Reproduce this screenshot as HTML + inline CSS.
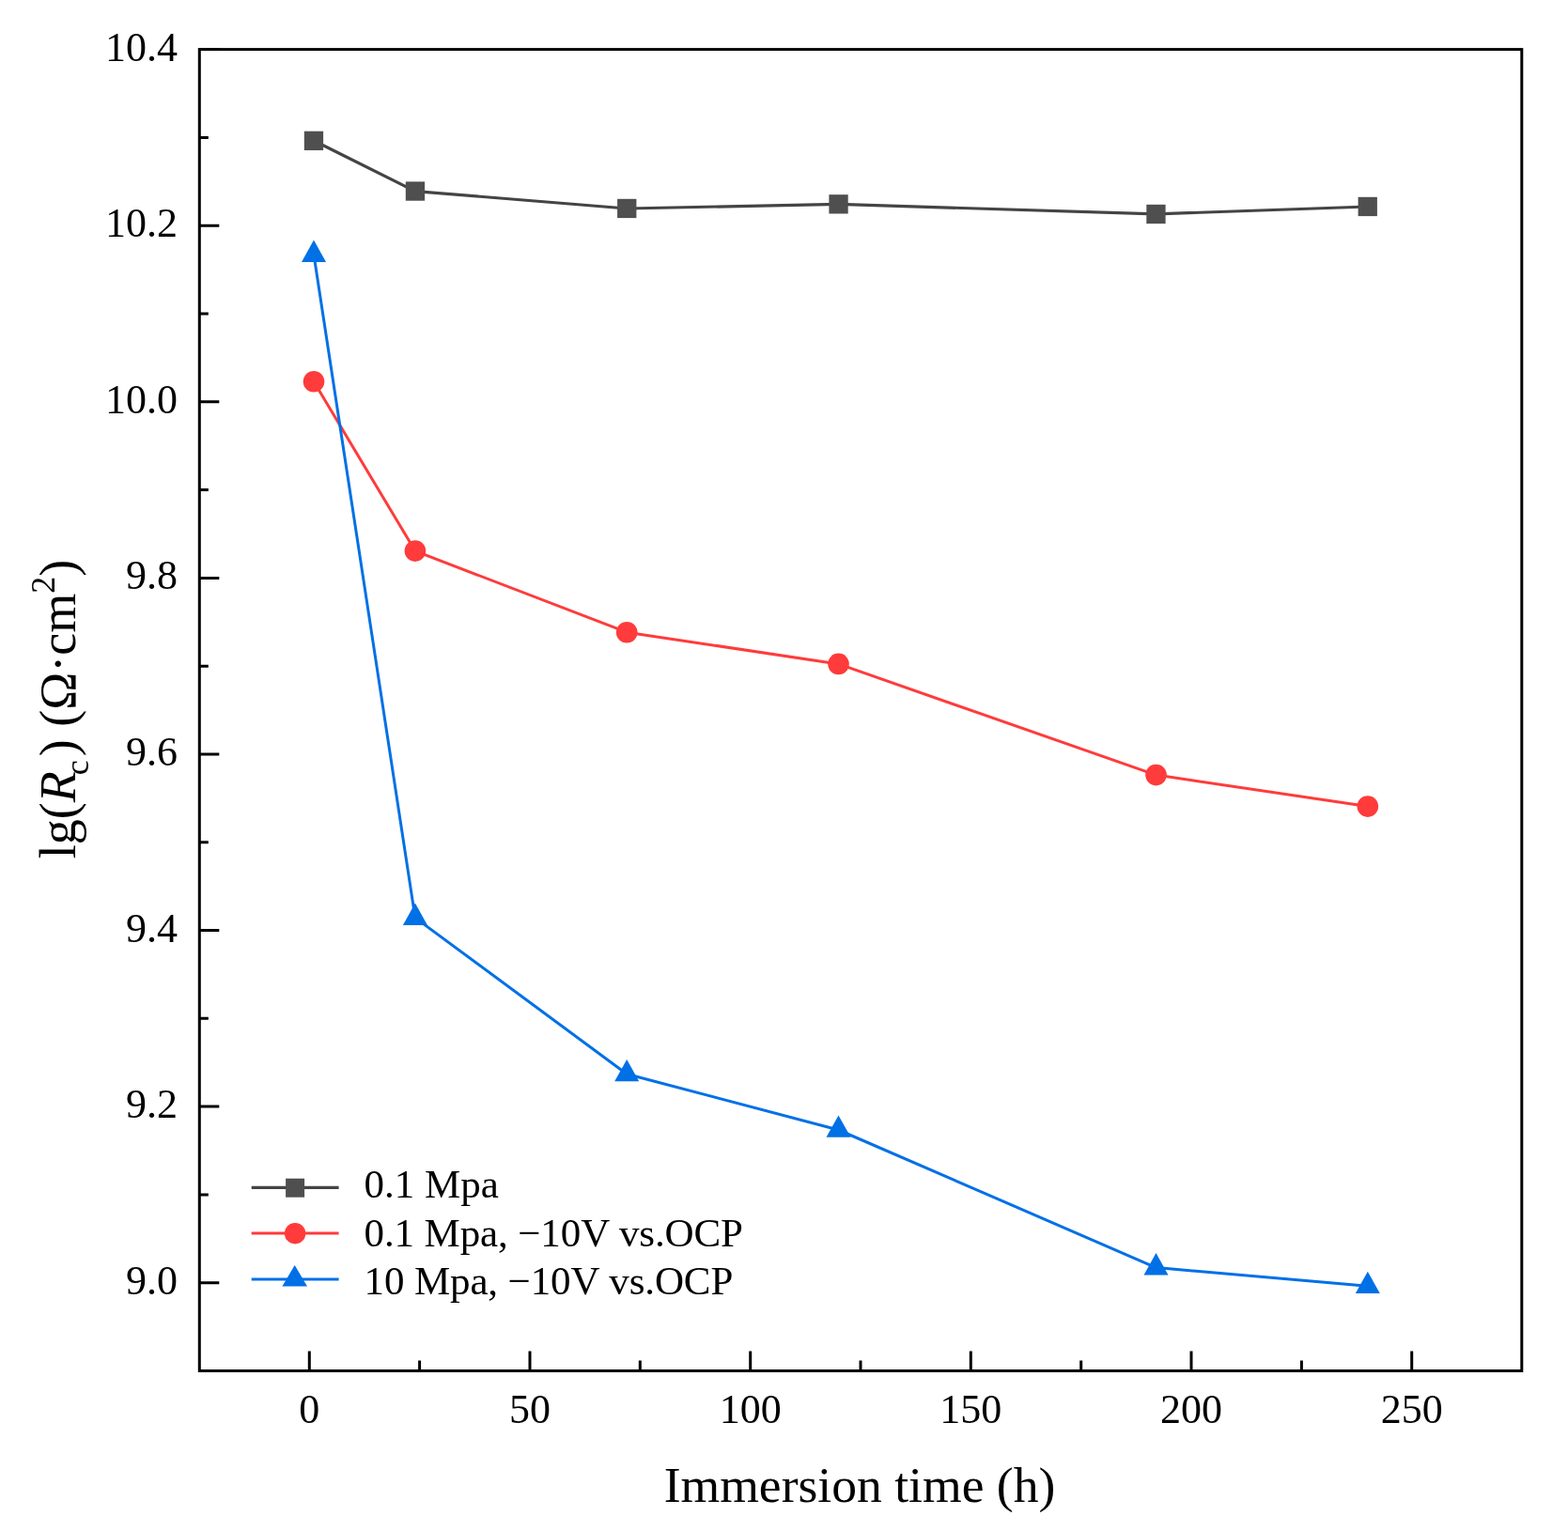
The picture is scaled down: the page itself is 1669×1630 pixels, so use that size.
<!DOCTYPE html>
<html><head><meta charset="utf-8"><title>lg(Rc) vs Immersion time</title>
<style>html,body{margin:0;padding:0;background:#fff;}svg{display:block;}</style></head>
<body>
<svg width="1669" height="1630" viewBox="0 0 1669 1630">
<rect width="1669" height="1630" fill="#fff"/>
<polyline points="334.0,149.8 441.9,203.6 667.2,222.0 892.5,217.4 1230.5,227.9 1455.8,220.0" fill="none" stroke="#444444" stroke-width="3.2" stroke-linejoin="round"/>
<polyline points="334.0,406.3 441.9,586.6 667.2,673.2 892.5,706.9 1230.5,825.1 1455.8,858.6" fill="none" stroke="#ff3b3b" stroke-width="3" stroke-linejoin="round"/>
<polyline points="334.0,271.1 441.9,977.1 667.2,1143.5 892.5,1203.0 1230.5,1349.6 1455.8,1369.3" fill="none" stroke="#0070e6" stroke-width="3" stroke-linejoin="round"/>
<rect x="323.8" y="139.7" width="20.3" height="20.3" fill="#4f4f4f"/>
<rect x="431.8" y="193.4" width="20.3" height="20.3" fill="#4f4f4f"/>
<rect x="657.1" y="211.8" width="20.3" height="20.3" fill="#4f4f4f"/>
<rect x="882.4" y="207.2" width="20.3" height="20.3" fill="#4f4f4f"/>
<rect x="1220.3" y="217.8" width="20.3" height="20.3" fill="#4f4f4f"/>
<rect x="1445.6" y="209.8" width="20.3" height="20.3" fill="#4f4f4f"/>
<circle cx="334.0" cy="406.3" r="11.3" fill="#ff3b3b"/>
<circle cx="441.9" cy="586.6" r="11.3" fill="#ff3b3b"/>
<circle cx="667.2" cy="673.2" r="11.3" fill="#ff3b3b"/>
<circle cx="892.5" cy="706.9" r="11.3" fill="#ff3b3b"/>
<circle cx="1230.5" cy="825.1" r="11.3" fill="#ff3b3b"/>
<circle cx="1455.8" cy="858.6" r="11.3" fill="#ff3b3b"/>
<polygon points="334.0,255.6 347.0,278.9 321.0,278.9" fill="#0070e6"/>
<polygon points="441.9,961.6 454.9,984.9 428.9,984.9" fill="#0070e6"/>
<polygon points="667.2,1128.0 680.2,1151.3 654.2,1151.3" fill="#0070e6"/>
<polygon points="892.5,1187.5 905.5,1210.8 879.5,1210.8" fill="#0070e6"/>
<polygon points="1230.5,1334.1 1243.5,1357.4 1217.5,1357.4" fill="#0070e6"/>
<polygon points="1455.8,1353.8 1468.8,1377.1 1442.8,1377.1" fill="#0070e6"/>
<rect x="212.3" y="52.6" width="1407.5" height="1406.9" fill="none" stroke="#000" stroke-width="3"/>
<path d="M329.3,1459.5V1438.5M446.6,1459.5V1448.5M564.0,1459.5V1438.5M681.3,1459.5V1448.5M798.7,1459.5V1438.5M916.0,1459.5V1448.5M1033.3,1459.5V1438.5M1150.7,1459.5V1448.5M1268.0,1459.5V1438.5M1385.4,1459.5V1448.5M1502.7,1459.5V1438.5M212.3,52.6H233.3M212.3,146.4H221.8M212.3,240.2H233.3M212.3,334.0H221.8M212.3,427.8H233.3M212.3,521.6H221.8M212.3,615.4H233.3M212.3,709.2H221.8M212.3,802.9H233.3M212.3,896.7H221.8M212.3,990.5H233.3M212.3,1084.3H221.8M212.3,1178.1H233.3M212.3,1271.9H221.8M212.3,1365.7H233.3" stroke="#000" stroke-width="3" fill="none"/>
<text x="329.3" y="1514.5" font-family="'Liberation Serif', 'Times New Roman', serif" font-size="44" text-anchor="middle">0</text>
<text x="564.0" y="1514.5" font-family="'Liberation Serif', 'Times New Roman', serif" font-size="44" text-anchor="middle">50</text>
<text x="798.7" y="1514.5" font-family="'Liberation Serif', 'Times New Roman', serif" font-size="44" text-anchor="middle">100</text>
<text x="1033.3" y="1514.5" font-family="'Liberation Serif', 'Times New Roman', serif" font-size="44" text-anchor="middle">150</text>
<text x="1268.0" y="1514.5" font-family="'Liberation Serif', 'Times New Roman', serif" font-size="44" text-anchor="middle">200</text>
<text x="1502.7" y="1514.5" font-family="'Liberation Serif', 'Times New Roman', serif" font-size="44" text-anchor="middle">250</text>
<text x="189" y="64.6" font-family="'Liberation Serif', 'Times New Roman', serif" font-size="44" text-anchor="end">10.4</text>
<text x="189" y="252.2" font-family="'Liberation Serif', 'Times New Roman', serif" font-size="44" text-anchor="end">10.2</text>
<text x="189" y="439.8" font-family="'Liberation Serif', 'Times New Roman', serif" font-size="44" text-anchor="end">10.0</text>
<text x="189" y="627.4" font-family="'Liberation Serif', 'Times New Roman', serif" font-size="44" text-anchor="end">9.8</text>
<text x="189" y="814.9" font-family="'Liberation Serif', 'Times New Roman', serif" font-size="44" text-anchor="end">9.6</text>
<text x="189" y="1002.5" font-family="'Liberation Serif', 'Times New Roman', serif" font-size="44" text-anchor="end">9.4</text>
<text x="189" y="1190.1" font-family="'Liberation Serif', 'Times New Roman', serif" font-size="44" text-anchor="end">9.2</text>
<text x="189" y="1377.7" font-family="'Liberation Serif', 'Times New Roman', serif" font-size="44" text-anchor="end">9.0</text>
<text x="915" y="1599" font-family="'Liberation Serif', 'Times New Roman', serif" font-size="53.6" text-anchor="middle">Immersion time (h)</text>
<text transform="translate(80,755) rotate(-90)" font-family="'Liberation Serif', 'Times New Roman', serif" font-size="54" text-anchor="middle">lg(<tspan font-style="italic">R</tspan><tspan font-size="36" dy="14" dx="-4">c</tspan><tspan dy="-14" dx="4">) (Ω·cm</tspan><tspan font-size="36" dy="-22">2</tspan><tspan dy="22">)</tspan></text>
<line x1="267.7" y1="1264.3" x2="360.6" y2="1264.3" stroke="#444444" stroke-width="3.2"/>
<rect x="304.1" y="1254.7" width="20" height="20" fill="#4f4f4f"/>
<text x="387.5" y="1275.4" font-family="'Liberation Serif', 'Times New Roman', serif" font-size="43">0.1 Mpa</text>
<line x1="267.7" y1="1312.9" x2="360.6" y2="1312.9" stroke="#ff3b3b" stroke-width="3"/>
<circle cx="314.1" cy="1313.2" r="11.2" fill="#ff3b3b"/>
<text x="387.5" y="1326.5" font-family="'Liberation Serif', 'Times New Roman', serif" font-size="43" letter-spacing="-0.12">0.1 Mpa, −10V vs.OCP</text>
<line x1="267.7" y1="1362.0" x2="360.6" y2="1362.0" stroke="#0070e6" stroke-width="3"/>
<polygon points="313.7,1346.9 327.0,1369.6 300.4,1369.6" fill="#0070e6"/>
<text x="387.5" y="1377.6" font-family="'Liberation Serif', 'Times New Roman', serif" font-size="43" letter-spacing="-0.12">10 Mpa, −10V vs.OCP</text>
</svg>
</body></html>
